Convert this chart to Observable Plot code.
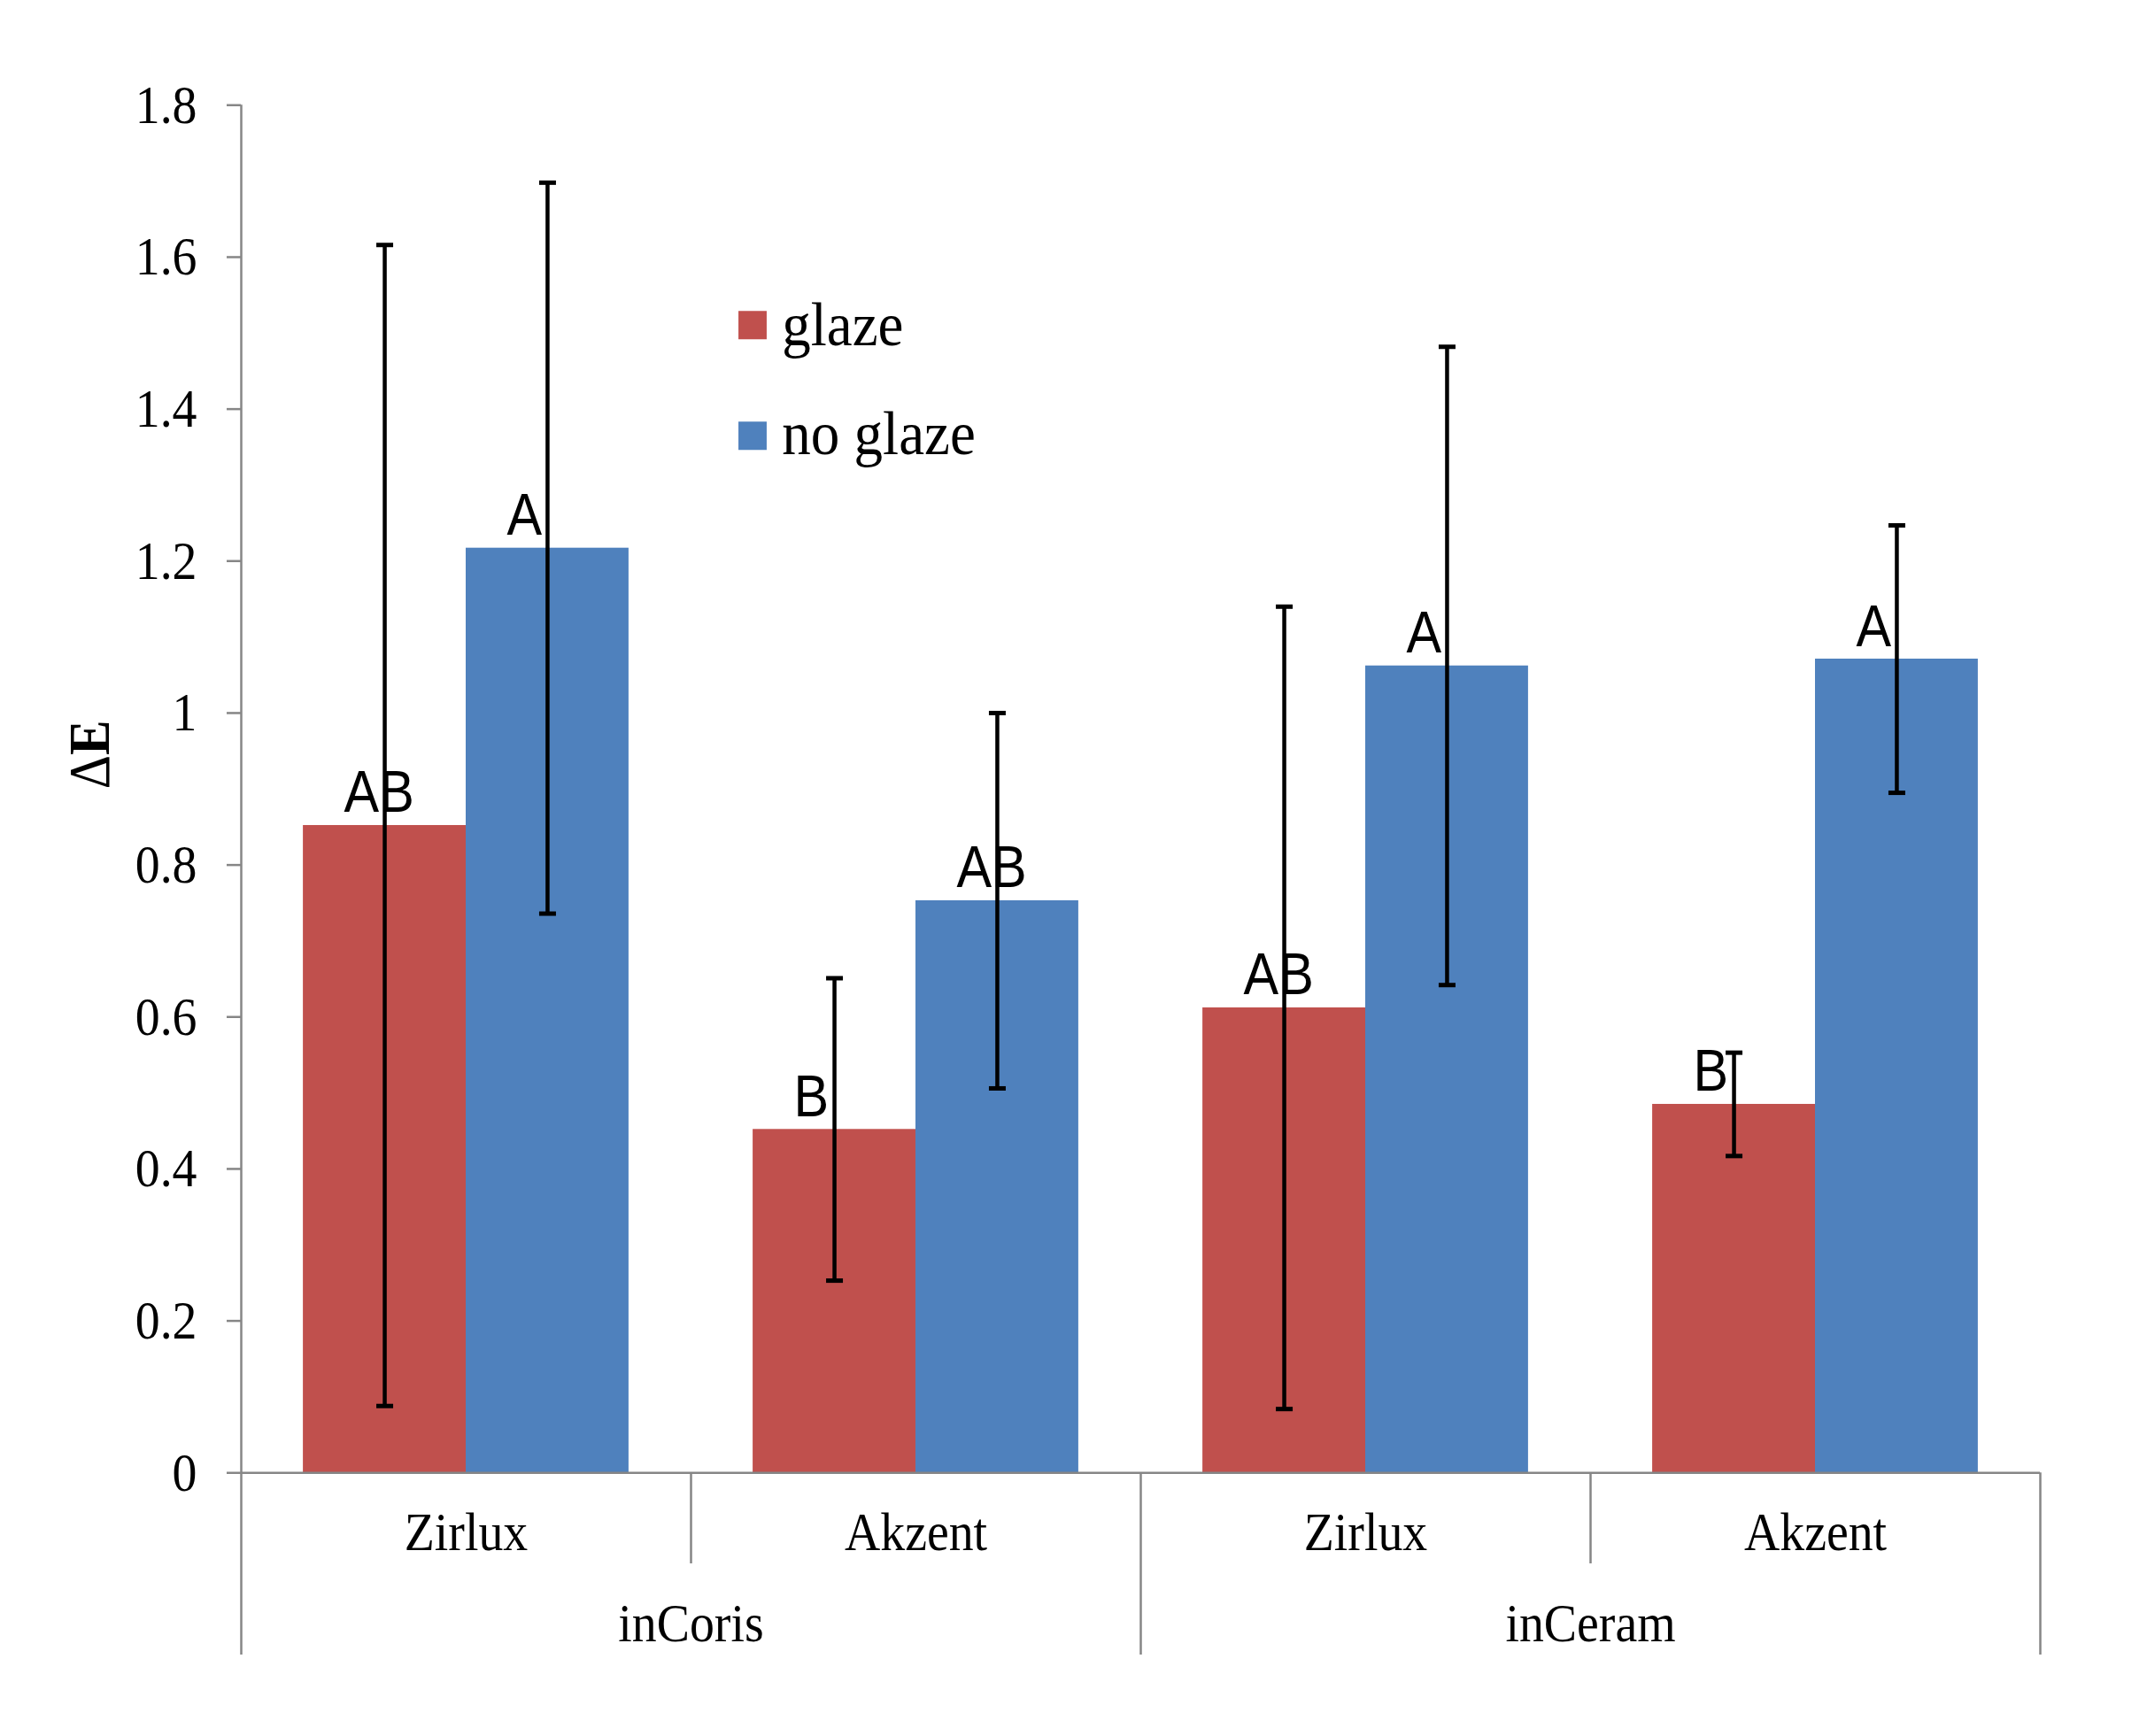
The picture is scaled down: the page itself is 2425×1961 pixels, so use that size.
<!DOCTYPE html>
<html>
<head>
<meta charset="utf-8">
<script src="https://cdn.jsdelivr.net/npm/d3@7"></script>
<script src="https://cdn.jsdelivr.net/npm/@observablehq/plot@0.6"></script>
<style>
  html, body { margin: 0; padding: 0; background: #ffffff; overflow: hidden; }
</style>
</head>
<body>
<div id="chart"></div>
<script>
// ---- data ----
const materials = ["inCoris", "inCoris", "inCeram", "inCeram"];
const brands = ["Zirlux", "Akzent", "Zirlux", "Akzent"];
const series = ["glaze", "no glaze"];
const glazeMean = [0.852, 0.452, 0.612, 0.485];
const glazeSD = [0.764, 0.199, 0.528, 0.068];
const noGlazeMean = [1.217, 0.753, 1.062, 1.071];
const noGlazeSD = [0.481, 0.247, 0.420, 0.176];
const glazeLetters = ["AB", "B", "AB", "B"];
const noGlazeLetters = ["A", "AB", "A", "A"];
const yTicks = [0, 0.2, 0.4, 0.6, 0.8, 1, 1.2, 1.4, 1.6, 1.8];
const yTitle = "ΔE";

// ---- layout ----
const W = 2425, H = 1961;
const colors = ["#C0504D", "#4F81BD"];
const axisGray = "#868686";
const gapFrac = 0.138, barFrac = 0.362;   // Excel gap / bar share of a category
const yMin = -0.2397;                      // bottom of the two-level category band
const shortSepY = -0.1197;                 // bottom of brand separators
const brandLabelY = -0.102;                // baseline of brand labels
const materialLabelY = -0.2218;            // baseline of material labels
const serif = "Liberation Serif, Times New Roman, serif";
const sans = "Liberation Sans, Arial, sans-serif";

const rows = [];
brands.forEach((b, i) => {
  series.forEach((s, k) => {
    const mean = k === 0 ? glazeMean[i] : noGlazeMean[i];
    const sd = k === 0 ? glazeSD[i] : noGlazeSD[i];
    const letter = k === 0 ? glazeLetters[i] : noGlazeLetters[i];
    const x1 = i + gapFrac + k * barFrac;
    rows.push({i, brand: b, material: materials[i], series: s, mean, sd, letter,
               x1, x2: x1 + barFrac, xc: x1 + barFrac / 2});
  });
});
const caps = rows.flatMap(d => [{xc: d.xc, y: d.mean - d.sd}, {xc: d.xc, y: d.mean + d.sd}]);

// category boundaries: long where the material changes (or at the end)
const seps = d3.range(1, brands.length + 1).map(b => ({
  x: b,
  long: b === brands.length || materials[b] !== materials[b - 1]
}));
const matGroups = d3.groups(brands.map((b, i) => ({i, m: materials[i]})), d => d.m)
  .map(([m, arr]) => ({m, x: d3.mean(arr, d => d.i) + 0.5}));

const capSymbol = {
  draw(context, size) {
    const r = Math.sqrt(size / Math.PI);
    context.moveTo(-r, 0);
    context.lineTo(r, 0);
  }
};

const yMid = (d3.min(yTicks) + d3.max(yTicks)) / 2;

const chart = Plot.plot({
  width: W,
  height: H,
  marginLeft: 272,
  marginRight: 121,
  marginTop: 118.3,
  marginBottom: 92,
  style: {fontFamily: serif, fontSize: "62px", color: "black", background: "white"},
  x: {type: "linear", domain: [0, brands.length], axis: null},
  y: {domain: [yMin, d3.max(yTicks)], axis: null},
  color: {domain: series, range: colors},
  marks: [
    // bars
    Plot.rect(rows, {x1: "x1", x2: "x2", y1: 0, y2: "mean", fill: "series"}),
    // y axis
    Plot.axisY({ticks: yTicks, tickSize: 16, tickPadding: 34, stroke: axisGray, strokeWidth: 2.5,
      tickFormat: d => String(+d.toFixed(1)), label: null, fontSize: 62, fill: "black"}),
    Plot.ruleX([0], {y1: yMin, y2: d3.max(yTicks), stroke: axisGray, strokeWidth: 2.5}),
    // x baseline and category separators
    Plot.ruleY([0], {x1: 0, x2: brands.length, stroke: axisGray, strokeWidth: 2.5}),
    Plot.ruleX(seps, {x: "x", y1: 0, y2: d => d.long ? yMin : shortSepY, stroke: axisGray, strokeWidth: 2.5}),
    // category labels
    Plot.text(brands, {x: (d, i) => i + 0.5, y: () => brandLabelY, text: d => d,
      lineAnchor: "bottom", fontSize: 62, fill: "black"}),
    Plot.text(matGroups, {x: "x", y: () => materialLabelY, text: "m",
      lineAnchor: "bottom", fontSize: 62, fill: "black"}),
    // significance letters
    Plot.text(rows, {x: "xc", y: "mean", text: "letter", textAnchor: "start", dx: -46, dy: -15,
      lineAnchor: "bottom", fontFamily: sans, fontSize: 66, fill: "black"}),
    // error bars
    Plot.ruleX(rows, {x: "xc", y1: d => d.mean - d.sd, y2: d => d.mean + d.sd,
      stroke: "black", strokeWidth: 4.5}),
    Plot.dot(caps, {x: "xc", y: "y", symbol: capSymbol, r: 9.5, stroke: "black",
      strokeWidth: 5, fill: "none"}),
    // y title
    Plot.text([yTitle], {frameAnchor: "left", y: () => yMid, dx: -170.5, rotate: -90,
      text: d => d, fontWeight: "bold", fontSize: 66, lineAnchor: "middle", fill: "black",
      className: "ytitle"}),
    // legend
    ...series.flatMap((s, k) => [
      Plot.dot([s], {frameAnchor: "top-left", dx: 577.5, dy: 248.4 + k * 125,
        symbol: "square", r: 18, fill: d => d}),
      Plot.text([s], {frameAnchor: "top-left", dx: 610.7, dy: 270.7 + k * 123.3,
        text: d => d, textAnchor: "start", lineAnchor: "bottom", fontSize: 70, fill: "black",
        className: "legendtext"})
    ])
  ]
});

// condense text horizontally like the reference
chart.querySelectorAll("text").forEach(t => {
  const tr = t.getAttribute("transform");
  const inLegend = t.closest(".legendtext") !== null;
  if (tr && tr.includes("translate")) t.setAttribute("transform", tr + (inLegend ? " scale(0.93,1)" : " scale(0.9,1)"));
});
// the delta sign is drawn in regular weight, the E in bold
chart.querySelectorAll(".ytitle text").forEach(t => {
  const s = t.textContent;
  t.textContent = "";
  const ns = "http://www.w3.org/2000/svg";
  const a = document.createElementNS(ns, "tspan");
  a.setAttribute("font-weight", "normal");
  a.textContent = s.slice(0, 1);
  const b = document.createElementNS(ns, "tspan");
  b.textContent = s.slice(1);
  t.appendChild(a);
  t.appendChild(b);
});

document.getElementById("chart").appendChild(chart);
</script>
</body>
</html>
